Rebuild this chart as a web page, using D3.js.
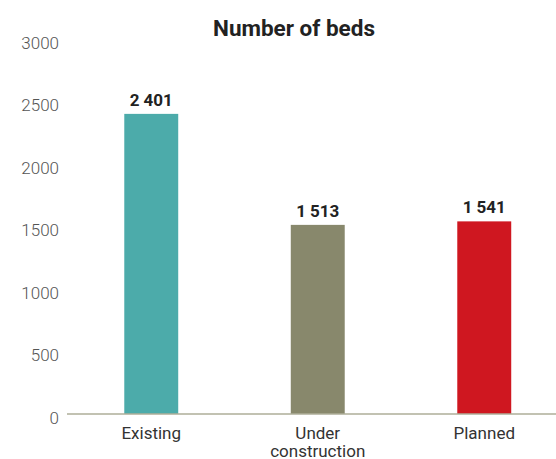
<!DOCTYPE html>
<html><head><meta charset="utf-8">
<script src="https://cdn.jsdelivr.net/npm/d3@7"></script>
<style>body{margin:0;background:#fff}svg{display:block;font-family:Roboto,"Noto Sans",sans-serif}</style>
</head><body>
<svg id="c" width="556" height="459"></svg>
<script>
const categories = [["Existing"], ["Under", "construction"], ["Planned"]];
const values = [2401, 1513, 1541];
const valueLabels = ["2 401", "1 513", "1 541"];
const colors = ["#4cabaa", "#88886c", "#cf1720"];
const yTicks = [0, 500, 1000, 1500, 2000, 2500, 3000];
const title = "Number of beds";

const svg = d3.select("#c");
const keys = categories.map(c => c.join(" "));
const x = d3.scaleBand().domain(keys).range([68, 567.5]).paddingInner(0.676).paddingOuter(0.338);
const y = d3.scaleLinear().domain([0, 3000]).range([414, 39]);

svg.append("text").attr("x", 294).attr("y", 36).attr("text-anchor", "middle")
  .attr("font-size", 22.5).attr("font-weight", "bold").attr("fill", "#222").text(title);

const yAxis = d3.axisLeft(y).tickValues(yTicks).tickSize(0).tickPadding(0).tickFormat(d3.format("d"));
const ga = svg.append("g").attr("transform", "translate(59,0)").call(yAxis);
ga.select(".domain").remove();
ga.selectAll("text").attr("font-size", 17).attr("fill", "#555").attr("font-family", "Roboto").attr("dy", "0.54em").attr("font-weight", 300);

svg.selectAll("rect.bar").data(values).join("rect").attr("class", "bar")
  .attr("x", (d, i) => x(keys[i])).attr("width", x.bandwidth())
  .attr("y", d => y(d)).attr("height", d => y(0) - y(d))
  .attr("fill", (d, i) => colors[i]);

svg.append("line").attr("x1", 67).attr("x2", 556).attr("y1", y(0)).attr("y2", y(0))
  .attr("stroke", "#aeae98").attr("stroke-width", 1.5);

svg.selectAll("text.val").data(values).join("text").attr("class", "val")
  .attr("x", (d, i) => x(keys[i]) + x.bandwidth() / 2).attr("y", d => y(d) - 8)
  .attr("text-anchor", "middle").attr("font-size", 17).attr("font-weight", "bold").attr("fill", "#222")
  .text((d, i) => valueLabels[i]);

categories.forEach((lines, i) => {
  const t = svg.append("text").attr("x", x(keys[i]) + x.bandwidth() / 2).attr("y", 439)
    .attr("text-anchor", "middle").attr("font-size", 17).attr("fill", "#333");
  lines.forEach((l, j) => t.append("tspan").attr("x", x(keys[i]) + x.bandwidth() / 2).attr("dy", j ? 18 : 0).text(l));
});
</script>
</body></html>
